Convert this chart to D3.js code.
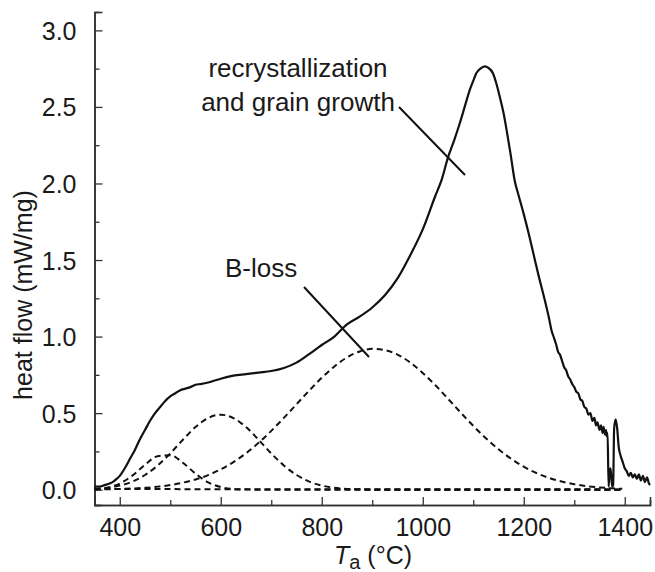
<!DOCTYPE html>
<html>
<head>
<meta charset="utf-8">
<script src="https://cdn.jsdelivr.net/npm/d3@7"></script>
<style>
  html, body { margin: 0; padding: 0; background: #fff; }
  svg text { font-family: "Liberation Sans", Arial, Helvetica, sans-serif; fill: #1a1a1a; }
</style>
</head>
<body>
<svg id="chart" width="655" height="572"></svg>
<script>
// ---------------- data ----------------
// total heat flow (solid line)
const totalT = [350,360,370,380,390,400,410,420,430,440,450,460,470,480,490,500,510,520,530,540,550,560,575,590,600,625,650,675,700,725,750,775,800,825,850,875,900,925,950,975,1000,1025,1037,1050,1062,1073,1083,1093,1100,1106,1114,1123,1130,1139,1146,1153,1160,1166,1174,1182,1190,1200,1210,1220,1230,1240,1250,1255,1260,1264,1268,1272,1276,1280,1284,1288,1292,1296,1300,1304,1308,1312,1316,1320,1324,1328,1332,1336,1340,1343,1346,1350,1353,1356,1358,1361,1363,1364,1366,1368,1370,1372,1375,1377,1379,1382,1385,1388,1392,1396,1400,1404,1408,1412,1416,1420,1424,1428,1432,1436,1440,1444,1448,1450];
const totalV = [0.02,0.02,0.03,0.04,0.06,0.09,0.14,0.20,0.26,0.33,0.39,0.45,0.50,0.54,0.58,0.61,0.63,0.65,0.66,0.67,0.685,0.69,0.70,0.715,0.725,0.745,0.755,0.765,0.775,0.795,0.83,0.885,0.945,1.00,1.08,1.13,1.19,1.27,1.38,1.53,1.70,1.92,2.02,2.17,2.28,2.39,2.50,2.61,2.67,2.72,2.75,2.765,2.755,2.72,2.65,2.56,2.46,2.35,2.19,2.02,1.92,1.80,1.67,1.53,1.39,1.26,1.12,1.04,0.99,0.95,0.90,0.88,0.84,0.80,0.78,0.74,0.72,0.69,0.67,0.64,0.63,0.59,0.58,0.54,0.53,0.49,0.50,0.45,0.47,0.42,0.44,0.39,0.42,0.37,0.41,0.36,0.39,0.35,0.37,0.02,0.12,0.14,0.02,0.03,0.40,0.46,0.40,0.28,0.22,0.18,0.14,0.12,0.09,0.11,0.08,0.10,0.07,0.10,0.06,0.09,0.05,0.08,0.04,0.03,0.00,-0.02];

// fitted components (dashed lines)
const compT = [350,375,400,425,450,475,500,525,550,575,600,625,650,675,700,725,750,775,800,825,850,875,900,925,950,975,1000,1025,1050,1075,1100,1125,1150,1175,1200,1225,1250,1275,1300,1325,1350,1375,1395];
const peak1 = [0.003,0.013,0.040,0.092,0.163,0.219,0.225,0.176,0.105,0.048,0.017,0.004,0.001,0,0,0,0,0,0,0,0,0,0,0,0,0,0,0,0,0,0,0,0,0,0,0,0,0,0,0,0,0,0];
const peak2 = [0.005,0.012,0.027,0.053,0.096,0.158,0.237,0.326,0.409,0.468,0.490,0.468,0.409,0.326,0.237,0.158,0.096,0.053,0.027,0.012,0.005,0.002,0,0,0,0,0,0,0,0,0,0,0,0,0,0,0,0,0,0,0,0,0];
const peak3 = [0.0015,0.003,0.005,0.008,0.012,0.020,0.030,0.046,0.067,0.095,0.133,0.180,0.238,0.306,0.384,0.469,0.558,0.647,0.731,0.805,0.864,0.903,0.920,0.912,0.882,0.831,0.762,0.682,0.594,0.504,0.417,0.336,0.264,0.202,0.150,0.109,0.077,0.053,0.036,0.023,0.015,0.009,0.006];
const baseT = [350,1395];
const baseV = [0.004,0.002];

const xTicks = [400,600,800,1000,1200,1400];
const xMinor = [500,700,900,1100,1300];
const yTicks = [0.0,0.5,1.0,1.5,2.0,2.5,3.0];
const yMinor = [0.25,0.75,1.25,1.75,2.25,2.75];

// ---------------- chart ----------------
const svg = d3.select("#chart");
const x = d3.scaleLinear().domain([350,1450]).range([94.5,650]);
const y = d3.scaleLinear().domain([-0.1,3.12]).range([505,12]);

const axisCol = "#333";
const g = svg.append("g");

const xAxis = d3.axisBottom(x).tickValues(xTicks).tickSize(-8).tickPadding(13).tickFormat(d3.format("d"));
const xAxisMinor = d3.axisBottom(x).tickValues(xMinor).tickSize(-5).tickFormat("");
const yAxis = d3.axisLeft(y).tickValues(yTicks).tickSize(-8).tickPadding(18).tickFormat(d3.format(".1f"));
const yAxisMinor = d3.axisLeft(y).tickValues(yMinor).tickSize(-5).tickFormat("");

function styleAxis(sel){
  sel.select(".domain").attr("stroke", axisCol).attr("stroke-width", 1.6);
  sel.selectAll(".tick line").attr("stroke", axisCol).attr("stroke-width", 1.3);
  sel.selectAll(".tick text").attr("font-size", 25).attr("font-family", "Liberation Sans, Arial, sans-serif").attr("fill", "#1a1a1a");
}

g.append("g").attr("transform", "translate(0,505)").call(xAxisMinor).call(styleAxis);
g.append("g").attr("transform", "translate(0,505)").call(xAxis).call(styleAxis);
g.append("g").attr("transform", "translate(94.5,0)").call(yAxisMinor).call(styleAxis);
g.append("g").attr("transform", "translate(94.5,0)").call(yAxis).call(styleAxis)
  .selectAll(".tick text").attr("dy", "0.36em");

// lines
const line = d3.line().x(d => x(d[0])).y(d => y(d[1])).curve(d3.curveMonotoneX);
const dashStyle = "6,4";
[peak1, peak2, peak3].forEach(vals => {
  svg.append("path")
    .datum(compT.map((t,i) => [t, vals[i]]))
    .attr("d", line)
    .attr("fill", "none").attr("stroke", "#111").attr("stroke-width", 2)
    .attr("stroke-dasharray", dashStyle);
});
svg.append("path")
  .datum(baseT.map((t,i) => [t, baseV[i]]))
  .attr("d", d3.line().x(d => x(d[0])).y(d => y(d[1])))
  .attr("fill", "none").attr("stroke", "#111").attr("stroke-width", 2)
  .attr("stroke-dasharray", dashStyle);

svg.append("path")
  .datum(totalT.map((t,i) => [t, totalV[i]]))
  .attr("d", d3.line().x(d => x(d[0])).y(d => y(d[1])).curve(d3.curveMonotoneX))
  .attr("fill", "none").attr("stroke", "#111").attr("stroke-width", 2.2)
  .attr("stroke-linejoin", "round");

// annotations
svg.append("text").attr("x", 298).attr("y", 77).attr("text-anchor", "middle").attr("font-size", 26).text("recrystallization");
svg.append("text").attr("x", 298).attr("y", 111).attr("text-anchor", "middle").attr("font-size", 26).text("and grain growth");
svg.append("line").attr("x1", 399).attr("y1", 107).attr("x2", 465).attr("y2", 175).attr("stroke", "#111").attr("stroke-width", 2);

svg.append("text").attr("x", 225).attr("y", 277).attr("font-size", 26).text("B-loss");
svg.append("line").attr("x1", 304).attr("y1", 287).attr("x2", 369).attr("y2", 357).attr("stroke", "#111").attr("stroke-width", 2);

// axis titles
svg.append("text")
  .attr("transform", "translate(32,295) rotate(-90)")
  .attr("text-anchor", "middle").attr("font-size", 25)
  .text("heat flow (mW/mg)");

const xt = svg.append("text").attr("x", 334).attr("y", 564).attr("font-size", 25);
xt.append("tspan").attr("font-style", "italic").text("T");
xt.append("tspan").attr("font-size", 20).attr("dy", 5).text("a");
xt.append("tspan").attr("dy", -5).text(" (°C)");
</script>
</body>
</html>
